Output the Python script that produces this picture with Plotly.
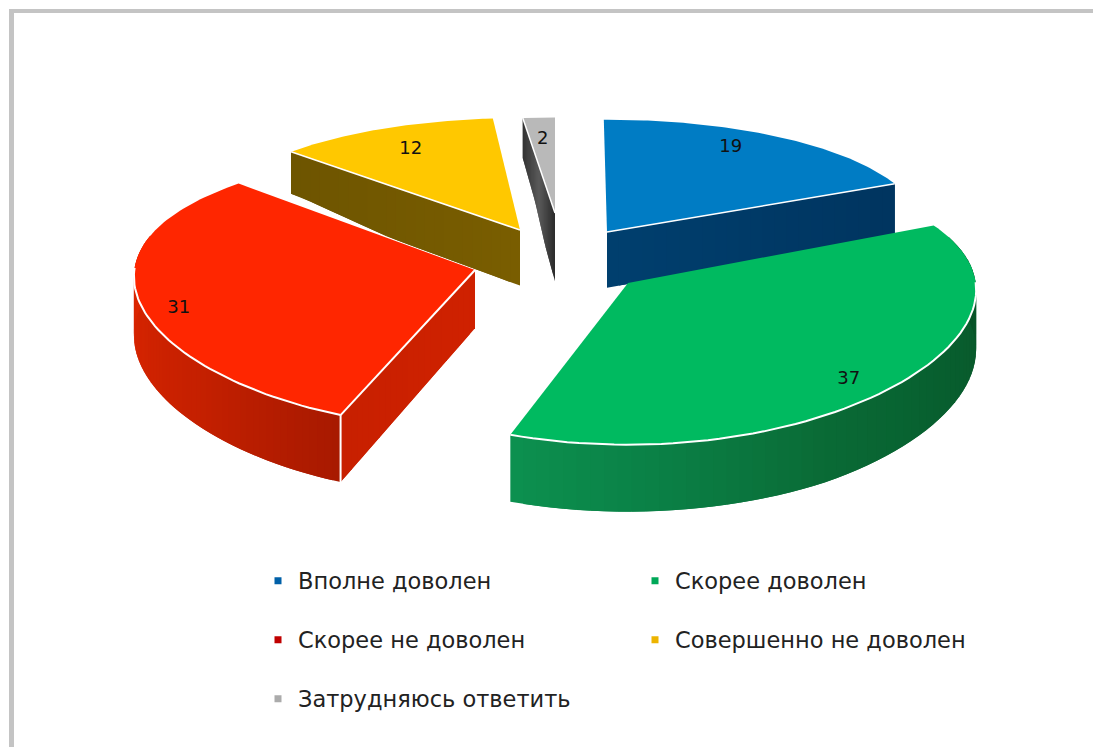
import numpy as np
import plotly.graph_objects as go

categories = ["Вполне доволен", "Скорее доволен", "Скорее не доволен", "Совершенно не доволен", "Затрудняюсь ответить"]
values = [19, 37, 31, 12, 2]

W, H = 1093, 747
# layout / style (not data)
apex = [(607, 232), (628, 283), (475, 270), (520, 230), (555, 213)]
size = [1.0, 1.0, 1.0, 1.0, 0.88]
start_rot = np.radians([-0.6, -3.8, 2.5, 2.0, 0.0])
end_rot = np.radians([-1.2, -0.8, 4.0, 2.0, 0.0])
label_r = [0.83, 0.88, 0.90, 0.78, 0.75]
label_rot = np.radians([-5.0, 2.0, -2.5, 1.5, 0.0])
top_col = ["#007CC4", "#00BA60", "#FF2600", "#FFC800", "#B9B9B9"]
leg_col = ["#0060A8", "#00A858", "#C00000", "#EDB400", "#ABABAB"]
leg_pos = [(258, 581), (635, 581), (258, 640), (635, 640), (258, 699)]
RX, RY, KY, KX, KS = 320, 128, 0.14, 0.05, 0.0017
DEPTH_Y, DEPTH_D = [120, 155, 185, 235, 415], [40, 42, 52, 56, 67]

frac = np.array(values) / sum(values) * 2 * np.pi
base_ends = np.cumsum(frac)
base_starts = base_ends - frac
starts = base_starts + start_rot
ends = base_ends + end_rot


def top(i, th, r=1.0):
    ax, ay = apex[i]
    s = (1 + (ay - 232) * KS) * size[i]
    u, v = r * np.sin(th), -r * np.cos(th)
    x = ax + s * RX * u / (1 - KX * v)
    y = ay + s * RY * v / (1 - KY * v)
    return x, y


def drop(y):
    return np.interp(y, DEPTH_Y, DEPTH_D)


def shade(stops, t):
    t = np.clip(t, 0, 1)
    xs = np.linspace(0, 1, len(stops))
    rgb = [np.interp(t, xs, [int(c[j:j + 2], 16) for c in stops]) for j in (1, 3, 5)]
    return "rgb(%d,%d,%d)" % tuple(rgb)


fig = go.Figure()


def poly(x, y, color):
    fig.add_trace(go.Scatter(x=list(x), y=list(y), mode="lines", fill="toself", fillcolor=color,
                             line=dict(color=color, width=0), hoverinfo="skip", showlegend=False))


def stroke(x, y, color="white", width=2):
    fig.add_trace(go.Scatter(x=list(x), y=list(y), mode="lines", line=dict(color=color, width=width),
                             hoverinfo="skip", showlegend=False))


def radial_wall(i, th, stops, apex_extra=0.0):
    ax, ay = apex[i]
    rx, ry = top(i, th)
    n = 24
    for k in range(n):
        a, b = k / n, min(1, (k + 2) / n)
        xa, ya = ax + (rx - ax) * a, ay + (ry - ay) * a
        xb, yb = ax + (rx - ax) * b, ay + (ry - ay) * b
        poly([xa, xb, xb, xa],
             [ya, yb, yb + drop(yb) + apex_extra * (1 - b), ya + drop(ya) + apex_extra * (1 - a)],
             shade(stops, (k + .5) / n))


def outer_wall(i, th0, th1, stops):
    ts = np.linspace(th0, th1, 61)
    for k in range(60):
        x0, y0 = top(i, ts[k])
        x1, y1 = top(i, ts[min(60, k + 2)])
        poly([x0, x1, x1, x0], [y0, y1, y1 + drop(y1), y0 + drop(y0)], shade(stops, (k + .5) / 60))


def top_face(i):
    ts = np.linspace(starts[i], ends[i], 90)
    x, y = top(i, ts)
    ax, ay = apex[i]
    poly(np.r_[ax, x, ax], np.r_[ay, y, ay], top_col[i])


# grey
radial_wall(4, starts[4], ["#2A2A2A", "#5A5A5A", "#333333"], apex_extra=14)
top_face(4)
x, y = top(4, starts[4]); stroke([apex[4][0], x], [apex[4][1], y], "white", 1.5)
# yellow
radial_wall(3, starts[3], ["#7A5E00", "#6E5500"])
top_face(3)
x, y = top(3, starts[3]); stroke([apex[3][0], x], [apex[3][1], y], "white", 1.5)
# blue
radial_wall(0, ends[0], ["#00406F", "#003560"])
top_face(0)
x, y = top(0, ends[0]); stroke([apex[0][0], x], [apex[0][1], y], "white", 1.5)
# red
outer_wall(2, starts[2], starts[2] + 1.45, ["#A81A00", "#C42000", "#D42400", "#E02800"])
radial_wall(2, starts[2], ["#D02200", "#C82000"])
top_face(2)
ts = np.linspace(starts[2], starts[2] + 1.2, 50)
x, y = top(2, ts); stroke(x, y)
x, y = top(2, starts[2]); stroke([apex[2][0], x], [apex[2][1], y]); stroke([x, x], [y, y + drop(y)])
# green
outer_wall(1, ends[1], starts[1] + 0.1, ["#0D9150", "#0A7F45", "#0A6B36", "#086030", "#0A5A2C", "#064A22"])
top_face(1)
ts = np.linspace(starts[1] + 0.45, ends[1], 60)
x, y = top(1, ts); stroke(x, y)

# value labels
lx, ly = [], []
for i in range(5):
    x, y = top(i, (base_starts[i] + base_ends[i]) / 2 + label_rot[i], label_r[i])
    lx.append(float(x)); ly.append(float(y))
fig.add_trace(go.Scatter(x=lx, y=ly, mode="text", text=[str(v) for v in values],
                         textfont=dict(family="DejaVu Sans", size=18, color="#111111"),
                         hoverinfo="skip", showlegend=False))

# legend entries
layout_legends = {}
for i, c in enumerate(categories):
    name = "legend" if i == 0 else f"legend{i + 1}"
    fig.add_trace(go.Scatter(x=[None], y=[None], mode="markers", name=c, legend=name,
                             marker=dict(symbol="square", size=7, color=leg_col[i])))
    layout_legends[name] = dict(x=leg_pos[i][0] / W, y=1 - leg_pos[i][1] / H, xanchor="left", yanchor="middle",
                                bgcolor="rgba(0,0,0,0)", borderwidth=0,
                                font=dict(family="DejaVu Sans", size=22.5, color="#222222"))

fig.update_layout(width=W, height=H, margin=dict(l=0, r=0, t=0, b=0), paper_bgcolor="white", plot_bgcolor="white",
                  xaxis=dict(range=[0, W], visible=False, fixedrange=True),
                  yaxis=dict(range=[H, 0], visible=False, fixedrange=True),
                  shapes=[
                      dict(type="line", xref="x", yref="y", x0=9, x1=W, y0=11, y1=11, line=dict(color="#C4C4C4", width=4)),
                      dict(type="line", xref="x", yref="y", x0=11.5, x1=11.5, y0=9, y1=H, line=dict(color="#C4C4C4", width=5)),
                  ],
                  **layout_legends)
fig.write_html("out.html", config=dict(displayModeBar=False),
               post_script="document.body.style.margin='0';document.body.style.overflow='hidden';")
